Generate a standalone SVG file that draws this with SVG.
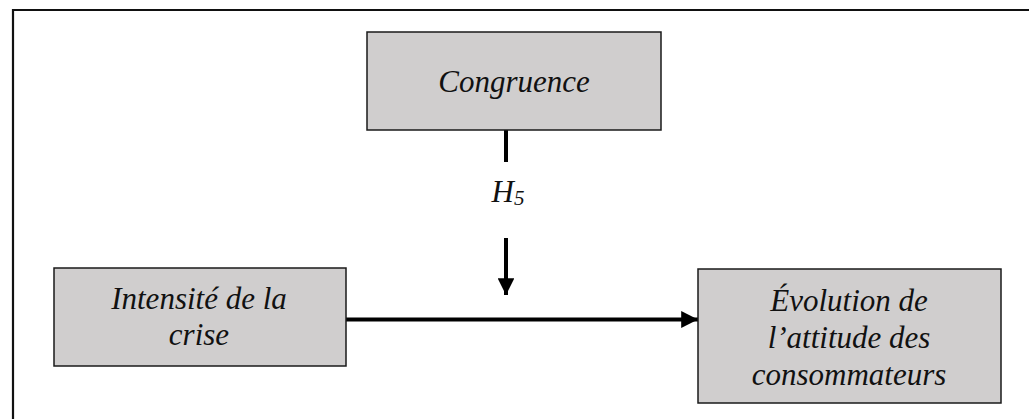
<svg xmlns="http://www.w3.org/2000/svg" width="1029" height="419" viewBox="0 0 1029 419">
  <style>
    .box { fill: #d0cece; stroke: #1a1a1a; stroke-width: 1.5; }
    .lbl { font-family: 'Liberation Serif', 'DejaVu Serif', serif; font-style: italic; font-size: 31px; fill: #111; text-anchor: middle; }
    .wire { stroke: #000; stroke-width: 4; fill: none; }
  </style>
  <defs>
    <marker id="head" viewBox="0 0 10 10" refX="10" refY="5" markerWidth="4.2" markerHeight="4.2" markerUnits="strokeWidth" orient="auto">
      <path d="M0,0 L10,5 L0,10 Z" fill="#000"/>
    </marker>
  </defs>
  <rect width="1029" height="419" fill="#fff"/>

  <!-- outer frame (extends past the canvas on the right and bottom) -->
  <path d="M13,430 L13,10 L1040,10" fill="none" stroke="#111" stroke-width="2.2"/>

  <g id="connectors">
    <!-- moderator stub and arrow -->
    <line class="wire" x1="506" y1="130" x2="506" y2="162"/>
    <line class="wire" x1="506" y1="238" x2="506" y2="295" marker-end="url(#head)"/>
    <!-- main effect -->
    <line class="wire" x1="346" y1="319.5" x2="698" y2="319.5" marker-end="url(#head)"/>
    <text class="lbl" x="508" y="202">H<tspan font-size="21" dy="3">5</tspan></text>
  </g>

  <g id="congruence">
    <rect class="box" x="367" y="32" width="294" height="98"/>
    <text class="lbl" x="514" y="92">Congruence</text>
  </g>

  <g id="intensite">
    <rect class="box" x="54" y="268" width="292" height="98"/>
    <text class="lbl" x="199" y="309">Intensité de la</text>
    <text class="lbl" x="199" y="345">crise</text>
  </g>

  <g id="evolution">
    <rect class="box" x="698" y="269" width="303" height="134"/>
    <text class="lbl" x="849" y="311">Évolution de</text>
    <text class="lbl" x="849" y="348">l’attitude des</text>
    <text class="lbl" x="849" y="385">consommateurs</text>
  </g>
</svg>
